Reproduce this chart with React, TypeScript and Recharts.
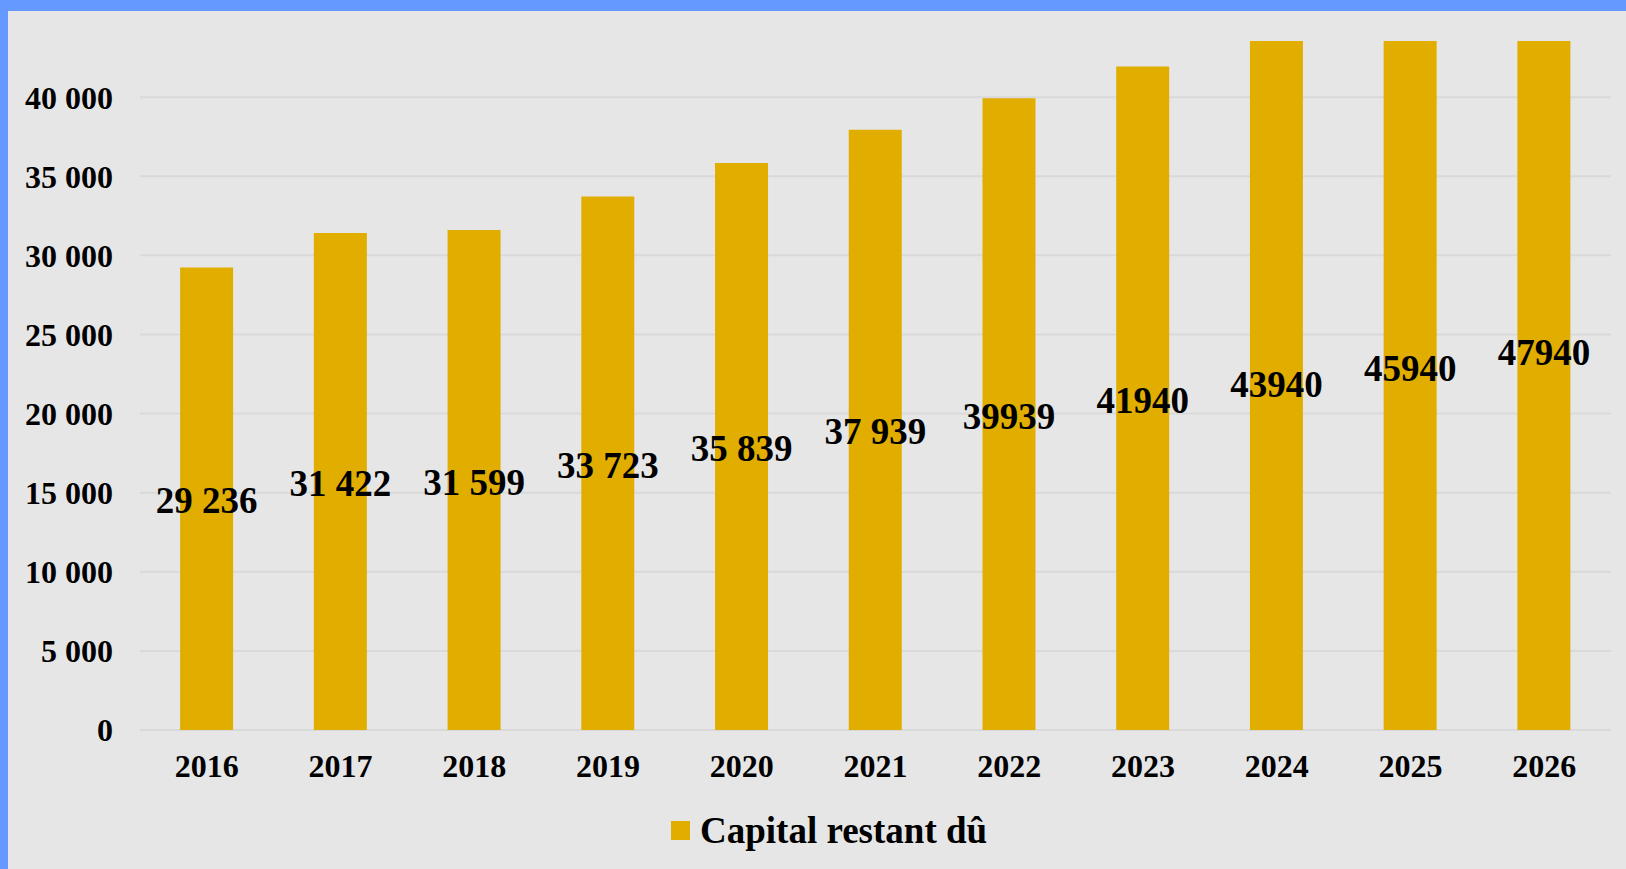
import React from 'react';
import { BarChart, Bar, XAxis, YAxis, CartesianGrid, Legend, LabelList } from 'recharts';

const years = ['2016', '2017', '2018', '2019', '2020', '2021', '2022', '2023', '2024', '2025', '2026'];
const capital = [29236, 31422, 31599, 33723, 35839, 37939, 39939, 41940, 43940, 45940, 47940];
const valueLabels = ['29 236', '31 422', '31 599', '33 723', '35 839', '37 939', '39939', '41940', '43940', '45940', '47940'];
const yTicks = [0, 5000, 10000, 15000, 20000, 25000, 30000, 35000, 40000];
const seriesName = 'Capital restant dû';

const data = years.map((y, i) => ({ year: y, value: capital[i], label: valueLabels[i] }));

const FONT = '"Liberation Serif", "Times New Roman", serif';
const BAR = '#E1AE00';

const fmt = (v: number) => {
  const s = String(v);
  return s.replace(/\B(?=(\d{3})+(?!\d))/g, ' ');
};

const renderLabel = (props: any) => {
  const { x, y, width, height, index } = props;
  return (
    <text
      x={Number(x) + Number(width) / 2}
      y={Number(y) + Number(height) / 2 + 2}
      textAnchor="middle"
      dominantBaseline="central"
      fontFamily={FONT}
      fontWeight="bold"
      fontSize={37}
      fill="#000"
    >
      {valueLabels[index]}
    </text>
  );
};

const renderLegend = () => (
  <div style={{ display: 'flex', alignItems: 'center', height: 40, fontFamily: FONT, fontWeight: 'bold', fontSize: 37, color: '#000', whiteSpace: 'nowrap' }}>
    <span style={{ display: 'inline-block', width: 19, height: 19, background: BAR, marginRight: 10 }} />
    <span>{seriesName}</span>
  </div>
);

export default function App() {
  return (
    <div
      style={{
        position: 'absolute',
        left: 0,
        top: 0,
        width: 1626,
        height: 869,
        boxSizing: 'border-box',
        background: '#E6E6E6',
        borderTop: '11px solid #6699FF',
        borderLeft: '8px solid #6699FF',
      }}
    >
      <BarChart
        width={1618}
        height={858}
        data={data}
        margin={{ top: 30, right: 15, left: 0, bottom: 79 }}
        barCategoryGap="30%"
      >
        <CartesianGrid vertical={false} horizontalValues={yTicks} stroke="#D9D9D9" strokeWidth={2} />
        <XAxis
          dataKey="year"
          axisLine={false}
          tickLine={false}
          tickSize={0}
          tickMargin={24}
          height={60}
          interval={0}
          tick={{ fontFamily: FONT, fontWeight: 'bold', fontSize: 32, fill: '#000' }}
        />
        <YAxis
          width={132}
          domain={[0, 43550]}
          allowDataOverflow
          ticks={yTicks}
          tickFormatter={fmt}
          axisLine={false}
          tickLine={false}
          tickSize={0}
          tickMargin={27}
          tick={{ fontFamily: FONT, fontWeight: 'bold', fontSize: 32, fill: '#000' }}
        />
        <Legend
          layout="horizontal"
          verticalAlign="middle"
          align="center"
          content={renderLegend}
          wrapperStyle={{ top: 799, left: 663, width: 'auto', height: 40, bottom: 'auto' }}
        />
        <Bar dataKey="value" name={seriesName} fill={BAR} isAnimationActive={false}>
          <LabelList dataKey="label" content={renderLabel} />
        </Bar>
      </BarChart>
    </div>
  );
}
